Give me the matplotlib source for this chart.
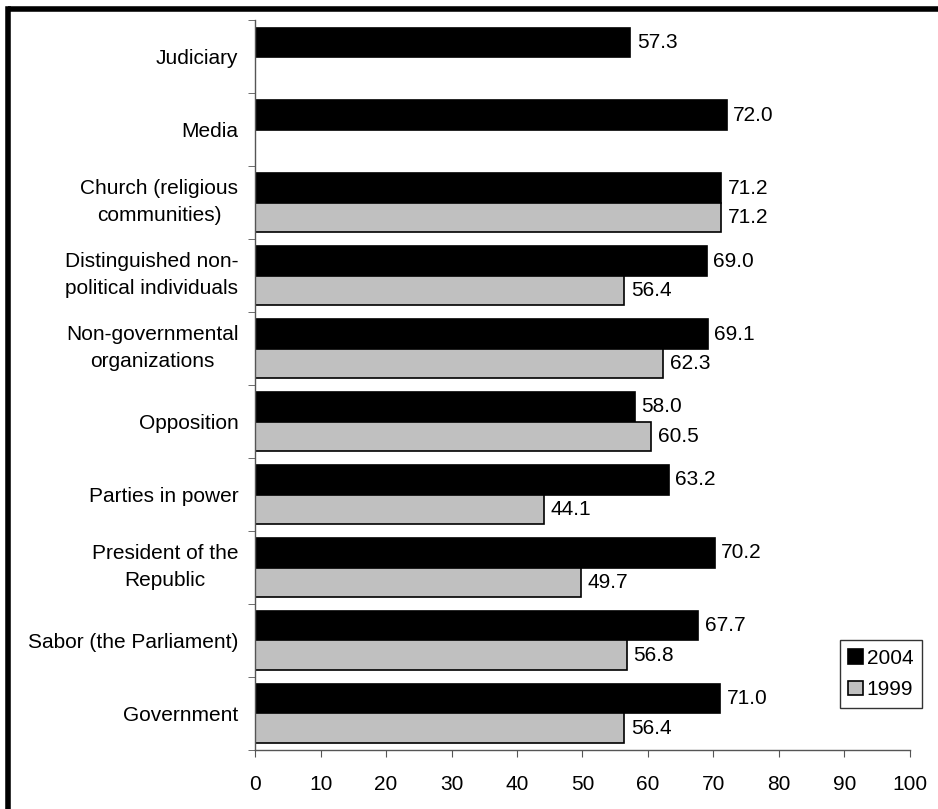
import numpy as np
import matplotlib.pyplot as plt
import matplotlib.transforms as mtransforms
from matplotlib.lines import Line2D

plt.rcParams['font.family'] = ['Liberation Sans', 'DejaVu Sans']

categories = ["Judiciary", "Media", "Church (religious\ncommunities)",
              "Distinguished non-\npolitical individuals",
              "Non-governmental\norganizations", "Opposition",
              "Parties in power", "President of the\nRepublic",
              "Sabor (the Parliament)", "Government"]
values_2004 = [57.3, 72.0, 71.2, 69.0, 69.1, 58.0, 63.2, 70.2, 67.7, 71.0]
values_1999 = [None, None, 71.2, 56.4, 62.3, 60.5, 44.1, 49.7, 56.8, 56.4]
x_ticks = list(range(0, 101, 10))

fs = 15
fig = plt.figure(figsize=(9.38, 8.09), dpi=100)
ax = fig.add_axes([0.272, 0.073, 0.698, 0.902])

pos = np.arange(len(categories))
h = 0.4

b04 = ax.barh(pos - h / 2, values_2004, height=h, color='black',
              edgecolor='black', linewidth=1.2, label='2004')
for v, p in zip(values_2004, pos):
    ax.text(v + 1.0, p - h / 2, f"{v:.1f}", va='center', ha='left', fontsize=fs)

pos99 = [p for p, v in zip(pos, values_1999) if v is not None]
vals99 = [v for v in values_1999 if v is not None]
b99 = ax.barh(np.array(pos99) + h / 2, vals99, height=h, color='#c0c0c0',
              edgecolor='black', linewidth=1.2, label='1999')
for v, p in zip(vals99, pos99):
    ax.text(v + 1.0, p + h / 2, f"{v:.1f}", va='center', ha='left', fontsize=fs)

ax.set_xlim(0, 100)
ax.set_ylim(len(categories) - 0.5, -0.5)
ax.set_xticks(x_ticks)
ax.set_xticklabels([str(t) for t in x_ticks], fontsize=fs)
ax.set_yticks(pos)
ax.set_yticklabels(categories, fontsize=fs, multialignment='center',
                   linespacing=1.55)
ax.set_yticks(np.arange(-0.5, len(categories), 1), minor=True)
ax.tick_params(axis='y', which='major', length=0, pad=12)
ax.tick_params(axis='y', which='minor', length=5, color='#555555')
ax.tick_params(axis='x', length=5, color='#555555', pad=13)

# nudge the two-line labels up a little
lift = mtransforms.ScaledTranslation(0, 5 / 72, fig.dpi_scale_trans)
for lbl in ax.get_yticklabels():
    if '\n' in lbl.get_text():
        lbl.set_transform(lbl.get_transform() + lift)

for s in ['top', 'right']:
    ax.spines[s].set_visible(False)
for s in ['left', 'bottom']:
    ax.spines[s].set_color('#555555')
    ax.spines[s].set_linewidth(1)

leg = ax.legend(handles=[b04, b99], loc='lower right',
                bbox_to_anchor=(1.018, 0.058), fontsize=fs, frameon=True,
                fancybox=False, edgecolor='black', handlelength=0.7,
                handleheight=0.7, handletextpad=0.2, borderpad=0.4,
                labelspacing=0.6, borderaxespad=0)
leg.get_frame().set_linewidth(1)

# heavy border along the top and left edges
fig.add_artist(Line2D([0.0085, 1.0], [0.989, 0.989], transform=fig.transFigure,
                      color='black', linewidth=4, solid_capstyle='butt'))
fig.add_artist(Line2D([0.0085, 0.0085], [0.0, 0.989], transform=fig.transFigure,
                      color='black', linewidth=4, solid_capstyle='projecting'))

fig.savefig('out.png', dpi=100)
